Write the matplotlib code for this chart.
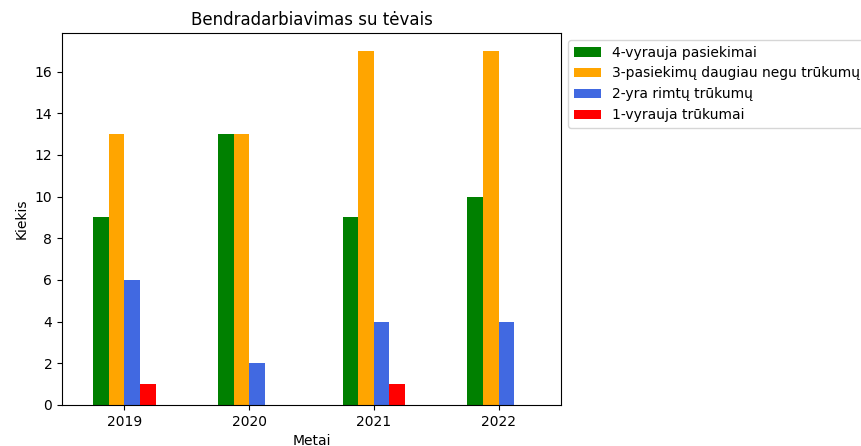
import numpy as np
import matplotlib
matplotlib.use("Agg")
import matplotlib.pyplot as plt

# duomenys
metai = ["2019", "2020", "2021", "2022"]
kategorijos = ["4-vyrauja pasiekimai", "3-pasiekimų daugiau negu trūkumų",
               "2-yra rimtų trūkumų", "1-vyrauja trūkumai"]
v4 = [9, 13, 9, 10]
v3 = [13, 13, 17, 17]
v2 = [6, 2, 4, 4]
v1 = [1, 0, 1, 0]
spalvos = ["green", "orange", "royalblue", "red"]

reiksmes = [v4, v3, v2, v1]

fig = plt.figure(figsize=(8.61, 4.46), dpi=100)
ax = fig.add_axes([62 / 861, 1 - 405 / 446, (561 - 62) / 861, (405 - 33) / 446])

x = np.arange(len(metai))
w = 0.125
for i, (vals, lab, c) in enumerate(zip(reiksmes, kategorijos, spalvos)):
    ax.bar(x + (i - 1.5) * w, vals, width=w, color=c, label=lab)

ax.set_xticks(x)
ax.set_xticklabels(metai)
ax.set_xlim(-0.5, 3.5)
ax.set_title("Bendradarbiavimas su tėvais", fontsize=12)
ax.set_xlabel("Metai")
ax.set_ylabel("Kiekis")

ax.legend(loc="upper left", bbox_to_anchor=(1, 1))

fig.savefig("out.png", dpi=100)
